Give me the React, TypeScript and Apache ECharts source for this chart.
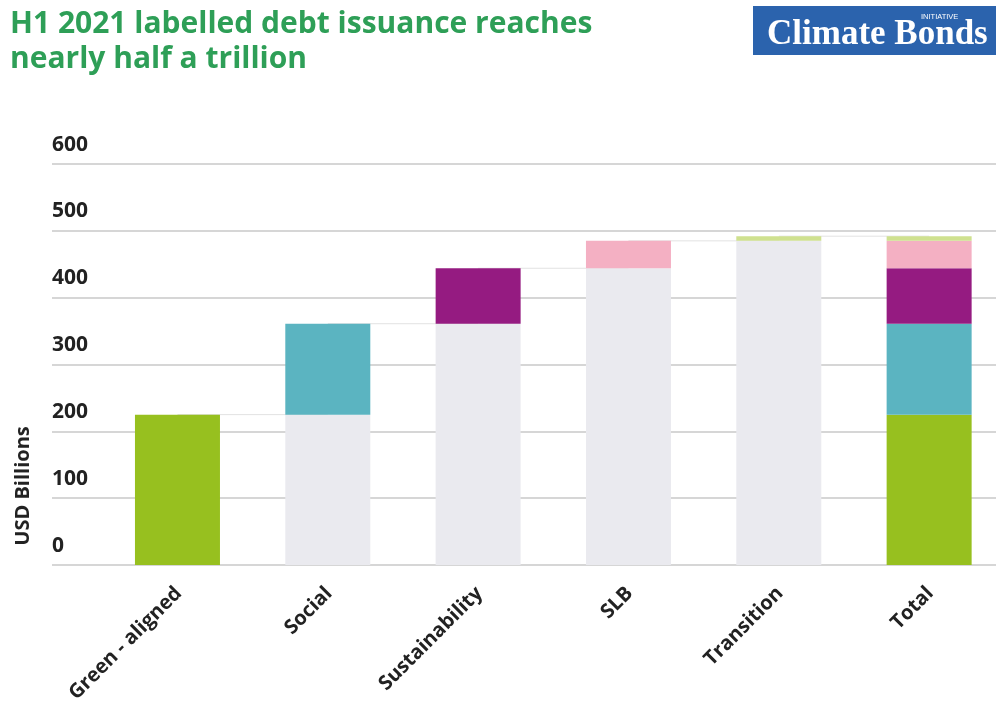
import React, { useEffect, useRef } from "react";
import * as echarts from "echarts";

const categories = ["Green - aligned", "Social", "Sustainability", "SLB", "Transition", "Total"];
const typeNames = ["Green - aligned", "Social", "Sustainability", "SLB", "Transition"];
const issuance = [225, 136, 83, 41, 7];
const typeColors = ["#97c01f", "#5bb4c1", "#951b81", "#f4b0c3", "#cfe18f"];
const yMin = 0;
const yMax = 600;
const yInterval = 100;
const titleText = "H1 2021 labelled debt issuance reaches\nnearly half a trillion";
const yAxisTitle = "USD Billions";

export default function App() {
  const ref = useRef<HTMLDivElement>(null);
  useEffect(() => {
    if (!ref.current) return;
    const chart = echarts.init(ref.current, null, { renderer: "svg" });
    const n = issuance.length;
    const cum: number[] = [0];
    for (let i = 0; i < n; i++) cum.push(cum[i] + issuance[i]);
    const totalIdx = categories.length - 1;

    const baseData = categories.map((_, i) => (i > 0 && i < totalIdx ? cum[i] : "-"));
    const barSeries: any[] = [
      {
        name: "base",
        type: "bar",
        stack: "w",
        xAxisIndex: 1,
        yAxisIndex: 1,
        barWidth: 85,
        z: 3,
        itemStyle: { color: "#eaeaef" },
        data: baseData,
      },
      ...typeNames.map((name, k) => ({
        name,
        type: "bar",
        stack: "w",
        xAxisIndex: 1,
        yAxisIndex: 1,
        barWidth: 85,
        z: 3,
        itemStyle: { color: typeColors[k] },
        data: categories.map((_, i) => (i === k || i === totalIdx ? issuance[k] : "-")),
      })),
    ];
    const connectors = categories.slice(0, -1).map((_, i) => ({
      type: "line",
      xAxisIndex: 1,
      yAxisIndex: 1,
      z: 1,
      symbol: "none",
      silent: true,
      lineStyle: { color: "#e2e2e2", width: 1 },
      data: [
        [i, cum[Math.min(i + 1, n)]],
        [i + 1, cum[Math.min(i + 1, n)]],
      ],
    }));

    const font = "'Open Sans', sans-serif";
    chart.setOption({
      animation: false,
      grid: [
        { left: 52, right: 0, top: 164, bottom: 141, outerBoundsMode: "none", containLabel: false },
        { left: 102.3, width: 902, top: 164, bottom: 141, outerBoundsMode: "none", containLabel: false },
      ],
      xAxis: [
        { gridIndex: 0, type: "value", min: 0, max: 1, show: false },
        {
          gridIndex: 1,
          type: "category",
          data: categories,
          axisLine: { show: false },
          axisTick: { show: false },
          axisLabel: {
            rotate: 45,
            margin: 24,
            fontFamily: font,
            fontWeight: "bold",
            fontSize: 20,
            color: "#222",
            interval: 0,
          },
        },
      ],
      yAxis: [
        {
          gridIndex: 0,
          type: "value",
          min: yMin,
          max: yMax,
          interval: yInterval,
          axisLine: { show: false },
          axisTick: { show: false },
          splitLine: { lineStyle: { color: "#c9c9c9", width: 1.5 } },
          axisLabel: {
            inside: true,
            margin: 0,
            align: "left",
            verticalAlign: "bottom",
            padding: [0, 0, 11, 0],
            fontFamily: font,
            fontWeight: "bold",
            fontSize: 21,
            color: "#222",
          },
        },
        { gridIndex: 1, type: "value", min: yMin, max: yMax, interval: yInterval, show: false },
      ],
      series: [...connectors, ...barSeries],
      graphic: [
        {
          type: "text",
          left: 10,
          top: 4,
          style: {
            text: titleText,
            fontFamily: font,
            fontWeight: "bold",
            fontSize: 30,
            lineHeight: 35,
            fill: "#2e9f57",
          },
        },
        { type: "rect", shape: { x: 753, y: 6, width: 243, height: 49 }, style: { fill: "#2b63ad" } },
        {
          type: "text",
          x: 767,
          y: 32,
          style: {
            text: "Climate Bonds",
            fontFamily: "'Liberation Serif', serif",
            fontWeight: "bold",
            fontSize: 35,
            fill: "#ffffff",
            verticalAlign: "middle",
          },
        },
        {
          type: "text",
          x: 921,
          y: 16.5,
          style: {
            text: "INITIATIVE",
            fontFamily: "'Liberation Sans', sans-serif",
            fontSize: 7.5,
            fill: "#ffffff",
            verticalAlign: "middle",
          },
        },
        {
          type: "text",
          x: 21,
          y: 486,
          rotation: Math.PI / 2,
          style: {
            text: yAxisTitle,
            fontFamily: font,
            fontWeight: "bold",
            fontSize: 20,
            fill: "#222",
            align: "center",
            verticalAlign: "middle",
          },
        },
      ],
    });
    return () => chart.dispose();
  }, []);
  return <div ref={ref} style={{ position: "fixed", left: 0, top: 0, width: 996, height: 706 }} />;
}
